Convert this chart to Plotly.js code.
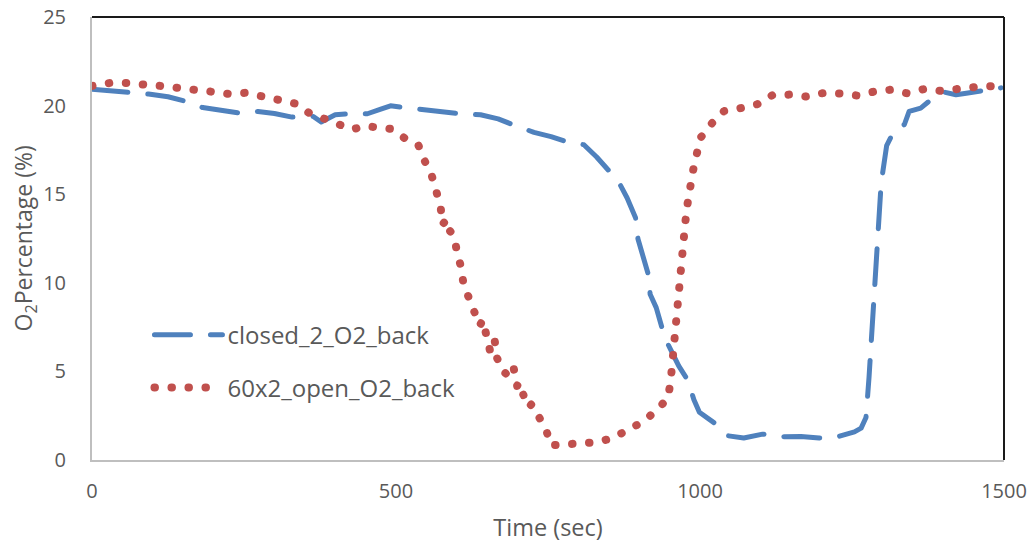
<!DOCTYPE html>
<html><head><meta charset="utf-8">
<script src="https://cdn.plot.ly/plotly-3.0.1.min.js"></script>
<style>
html,body{margin:0;padding:0;background:#fff}
#chart{width:1033px;height:545px}
path.js-line{stroke-linecap:round !important;stroke-linejoin:round !important}
</style></head><body><div id="chart"></div>
<script>
const closedName = 'closed_2_O2_back';
const openName = '60x2_open_O2_back';

const closedTime = [0,30,61,93,125,155,182,212,242,273,300,329,364,377,400,422,453,475,491,514,546,575,606,639,668,697,727,755,782,809,830,850,868,880,894,898,906,915,918,928,937,945,955,965,980,990,999,1026,1045,1072,1103,1133,1166,1196,1225,1254,1265,1273,1278,1280,1285,1288,1292,1296,1298,1307,1320,1336,1344,1363,1383,1402,1421,1438,1470,1495];
const closedO2 = [20.93,20.85,20.76,20.65,20.5,20.23,19.89,19.72,19.58,19.67,19.55,19.35,19.39,19.07,19.48,19.54,19.54,19.8,19.99,19.89,19.76,19.62,19.54,19.48,19.25,18.86,18.49,18.25,17.94,17.79,17.1,16.33,15.58,14.8,13.67,12.47,11.5,10.47,9.35,8.6,7.52,6.7,6.0,5.31,4.5,3.4,2.69,2.03,1.37,1.24,1.46,1.31,1.33,1.24,1.3,1.59,1.8,2.4,4.66,5.78,9.07,11.17,12.35,14.51,15.64,17.74,18.64,18.92,19.67,19.86,20.42,20.76,20.61,20.7,20.89,21.0];

const openTime = [0,28.5,57,86,113,141,170,198,225,252,279,307,334,357,383,407,428,448,470,491,514,537,547,558,566,573.5,576,584,588,595.5,601,607,611,620,628.5,637.7,642.7,649.3,655.4,662.4,666.4,674.6,682.9,688.3,693.7,699.3,702,711.3,718.4,722.9,733.9,746.4,754.7,774.4,801.9,829.4,856.3,882.6,907.3,928.7,947.3,951.8,954.2,956.2,958.3,960.5,962.8,966.6,969.9,972.3,975.6,978.9,983,988.3,994.6,1001.2,1019.8,1039.5,1067,1094.5,1119.2,1146.9,1174,1201.5,1230,1258,1285.5,1312.4,1339.9,1367.9,1395.8,1423.9,1451.2,1480.3,1500];
const openO2 = [21.11,21.27,21.27,21.23,21.11,21.0,20.93,20.78,20.66,20.72,20.53,20.31,20.12,19.59,19.24,18.96,18.65,18.85,18.77,18.69,18.17,17.75,16.89,16.14,15.2,14.26,13.29,13.57,12.96,12.62,11.62,10.89,9.93,9.17,8.18,7.58,7.9,6.97,6.06,6.72,5.74,5.08,4.8,5.31,5.16,4.18,4.38,3.51,2.97,3.15,2.55,1.76,0.83,0.86,0.9,1.0,1.24,1.69,2.18,2.82,3.49,4.47,5.46,6.44,7.45,8.43,9.4,10.4,11.37,12.36,13.34,14.33,15.33,16.29,17.26,18.2,19.01,19.69,19.86,20.08,20.59,20.62,20.51,20.7,20.68,20.57,20.78,20.89,20.7,20.93,20.83,20.98,21.04,21.1,21.1];

const xTicks = [0,500,1000,1500];
const yTicks = [0,5,10,15,20,25];
const xTitle = 'Time (sec)';
const yTitle = 'O<sub>2</sub>Percentage (%)';

const FONT = 'Open Sans, sans-serif';
const TXT = '#595959';

const traces = [
  {x: closedTime, y: closedO2, name: closedName, type: 'scatter', mode: 'lines',
   line: {color: '#4F81BD', width: 5, dash: '36px,20px'}, legend: 'legend'},
  {x: openTime, y: openO2, name: openName, type: 'scatter', mode: 'lines',
   line: {color: '#C0504D', width: 8, dash: '0.5px,16.5px'}, legend: 'legend2'}
];

const legendCommon = {xanchor: 'left', yanchor: 'middle', bgcolor: 'rgba(0,0,0,0)',
  font: {family: FONT, size: 24, color: TXT}, itemwidth: 68};

const layout = {
  width: 1033, height: 545,
  margin: {l: 92, r: 29, t: 17, b: 85},
  paper_bgcolor: '#fff', plot_bgcolor: '#fff',
  font: {family: FONT, color: TXT},
  xaxis: {range: [0,1500], tickvals: xTicks, ticktext: xTicks.map(String), showgrid: false, zeroline: false,
    showline: true, linecolor: '#BFBFBF', linewidth: 2, ticks: '', tickfont: {size: 20, color: TXT},
    ticklabelstandoff: 12,
    title: {text: xTitle, font: {size: 23.5, color: TXT}, standoff: 17}},
  yaxis: {range: [0,25], tickvals: yTicks, ticktext: yTicks.map(String), showgrid: false, zeroline: false,
    showline: true, linecolor: '#BFBFBF', linewidth: 2, ticks: '', tickfont: {size: 20, color: TXT},
    ticklabelstandoff: 20},
  annotations: [
    {text: yTitle, xref: 'paper', yref: 'paper', x: -0.0735, y: 0.5, xanchor: 'center', yanchor: 'middle',
     textangle: -90, showarrow: false, font: {family: FONT, size: 23, color: TXT}}
  ],
  showlegend: true,
  legend: Object.assign({x: 0.063, y: 0.282}, legendCommon),
  legend2: Object.assign({x: 0.063, y: 0.1625}, legendCommon),
  shapes: [
    {type: 'line', xref: 'paper', yref: 'paper', x0: 0, x1: 1, y0: 1, y1: 1, line: {color: '#1a1a1a', width: 2}},
    {type: 'line', xref: 'paper', yref: 'paper', x0: 1, x1: 1, y0: 0, y1: 1, line: {color: '#1a1a1a', width: 2}}
  ]
};

Plotly.newPlot('chart', traces, layout, {displayModeBar: false, staticPlot: true});
</script></body></html>
